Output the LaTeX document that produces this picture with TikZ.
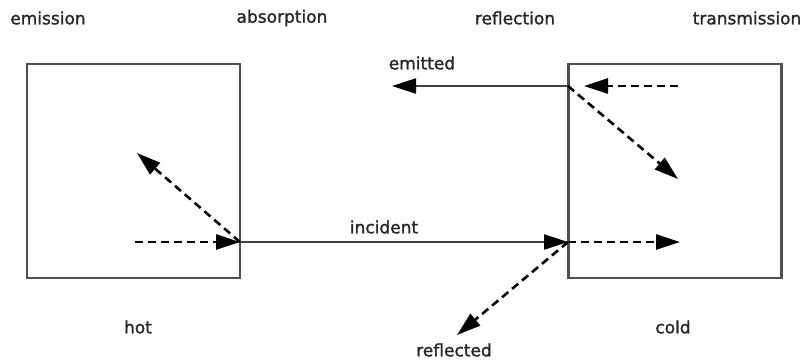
\documentclass[tikz,border=0pt]{standalone}
\usepackage{fontspec}
\setmainfont{DejaVu Sans}[BoldFont=DejaVu Sans,BoldFeatures={FakeBold=1.3}]
\usetikzlibrary{arrows.meta}
\definecolor{boxgray}{HTML}{505050}
\begin{document}
\begin{tikzpicture}[x=1pt,y=-1pt,
  lbl/.style={font=\fontsize{17}{20}\selectfont\bfseries, inner sep=0pt, text=black!85},
  box/.style={draw=boxgray, line width=2.2pt, minimum width=213pt, minimum height=214pt, inner sep=0pt},
  ray/.style={draw=black!75, line width=2.2pt, -{Triangle[length=24pt,width=15pt,fill=black,color=black]}},
  dray/.style={draw=black, line width=2.6pt, dash pattern=on 8pt off 5pt, -{Triangle[length=24pt,width=15pt]}}]
\useasboundingbox (0,0) rectangle (804,360);
\fill[white] (0,0) rectangle (804,360);
% boxes
\node[box] (hot) at (133.5,171) {};
\node[box] (cold) at (675,171) {};
% points
\coordinate (a) at (240,242);
\coordinate (b) at (568,242);
\coordinate (c) at (568,86);
\coordinate (a1) at (135,242);
\coordinate (a2) at (137,153);
\coordinate (b1) at (680,242);
\coordinate (b2) at (457,335);
\coordinate (c1) at (678,86);
\coordinate (c2) at (584,86);
\coordinate (c3) at (678,179);
\coordinate (e) at (392,86);
% rays
\draw[dray] (a1) -- (a);
\draw[dray] (a) -- (a2);
\draw[ray] (a) -- (b);
\draw[dray] (b) -- (b1);
\draw[dray] (b) -- (b2);
\draw[ray] (c) -- (e);
\draw[dray] (c1) -- (c2);
\draw[dray] (c) -- (c3);
% labels
\node[lbl] (l1) at (48,18) {emission};
\node[lbl] (l2) at (282,18) {absorption};
\node[lbl] (l3) at (515,18) {reflection};
\node[lbl] (l4) at (747,18) {transmission};
\node[lbl] (l5) at (422,63) {emitted};
\node[lbl] (l6) at (384,227) {incident};
\node[lbl] (l7) at (138,327) {hot};
\node[lbl] (l8) at (673,327) {cold};
\node[lbl] (l9) at (454,350) {reflected};
\end{tikzpicture}
\end{document}
